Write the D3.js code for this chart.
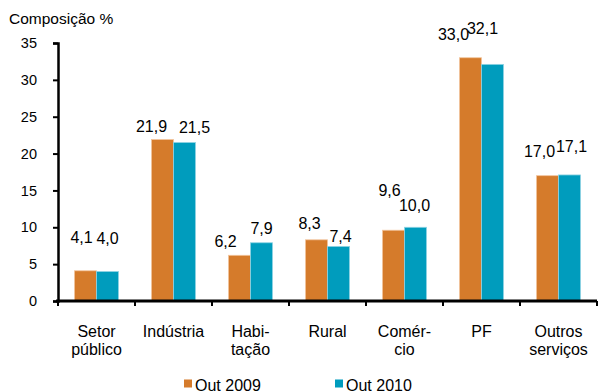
<!DOCTYPE html>
<html>
<head>
    <meta charset="utf-8">
    <script src="https://d3js.org/d3.v7.min.js"></script>
    <style>
        body { margin: 0; background: white; }
    </style>
</head>
<body>
<svg id="chart" width="599" height="392" style="font-family: 'Liberation Sans', Arial, Helvetica, sans-serif"></svg>
<script>
    // dados
    var categories = ["Setor\npúblico", "Indústria", "Habi-\ntação", "Rural", "Comér-\ncio", "PF", "Outros\nserviços"]
    var seriesNames = ["Out 2009", "Out 2010"]
    var out2009 = [4.1, 21.9, 6.2, 8.3, 9.6, 33.0, 17.0]
    var out2010 = [4.0, 21.5, 7.9, 7.4, 10.0, 32.1, 17.1]
    var yTicks = [0, 5, 10, 15, 20, 25, 30, 35]

    // ajustes manuais dos rótulos (dx, distância acima da barra)
    var nudge2009 = [[-4, 28], [-11, 8], [-14, 8], [-7, 11], [-4, 34], [-17, 18], [-8, 19]]
    var nudge2010 = [[0, 28], [10, 10], [0, 9], [2, 4], [-1, 16], [-10, 30], [2, 23]]

    var FONT = "Liberation Sans, Arial, Helvetica, sans-serif"
    var colors = ["#D57B2B", "#009CBD"]
    var strokes = ["#F2C49C", "#8FD3E3"]

    var svg = d3.select("#chart")

    var x = d3.scaleBand().domain(categories).range([58, 597]).padding(0)
    var xs = d3.scaleBand().domain(seriesNames).range([0, x.bandwidth()]).paddingInner(0).paddingOuter(0.75)
    var y = d3.scaleLinear().domain([0, 35]).range([301, 43])

    // título do eixo
    svg.append("text").attr("x", 9).attr("y", 24).attr("font-size", 15.5).attr("font-family", FONT).text("Composição %")

    // barras
    var data = [out2009, out2010]
    var nudges = [nudge2009, nudge2010]
    data.forEach(function (vals, s) {
        var g = svg.append("g")
        g.selectAll("rect").data(vals).enter().append("rect")
            .attr("x", function (d, i) { return x(categories[i]) + xs(seriesNames[s]) })
            .attr("y", function (d) { return y(d) })
            .attr("width", xs.bandwidth())
            .attr("height", function (d) { return y(0) - y(d) })
            .attr("fill", colors[s])
            .attr("stroke", strokes[s])
            .attr("stroke-width", 0.8)

        g.selectAll("text").data(vals).enter().append("text")
            .attr("x", function (d, i) { return x(categories[i]) + xs(seriesNames[s]) + xs.bandwidth() / 2 + nudges[s][i][0] })
            .attr("y", function (d, i) { return y(d) - nudges[s][i][1] })
            .attr("text-anchor", "middle")
            .attr("font-size", 16)
            .attr("font-family", FONT)
            .text(function (d) { return d.toFixed(1).replace(".", ",") })
    })

    // eixo y
    var yAxis = d3.axisLeft(y).tickValues(yTicks).tickSize(5).tickPadding(16)
    var gy = svg.append("g").attr("transform", "translate(58,0)").call(yAxis)
        .attr("font-family", FONT).attr("font-size", 14.5)
    gy.select(".domain").attr("stroke", "#000").attr("stroke-width", 2.5)
    gy.selectAll(".tick line").attr("stroke", "#000").attr("stroke-width", 2)
    gy.selectAll(".tick text").attr("fill", "#000")

    // eixo x
    svg.append("line").attr("x1", 56).attr("x2", 597).attr("y1", y(0)).attr("y2", y(0))
        .attr("stroke", "#000").attr("stroke-width", 2.8)
    var bounds = categories.map(function (c) { return x(c) }).concat([x.range()[1]])
    svg.selectAll(".xtick").data(bounds).enter().append("line")
        .attr("x1", function (d) { return d }).attr("x2", function (d) { return d })
        .attr("y1", y(0)).attr("y2", y(0) + 5)
        .attr("stroke", "#000").attr("stroke-width", 2)

    categories.forEach(function (c) {
        var lines = c.split("\n")
        var t = svg.append("text").attr("text-anchor", "middle").attr("font-size", 16).attr("font-family", FONT)
            .attr("x", x(c) + x.bandwidth() / 2).attr("y", 337)
        lines.forEach(function (l, k) {
            t.append("tspan").attr("x", x(c) + x.bandwidth() / 2).attr("dy", k === 0 ? 0 : 18).text(l)
        })
    })

    // legenda
    var legX = [184, 335]
    seriesNames.forEach(function (n, s) {
        svg.append("rect").attr("x", legX[s]).attr("y", 379.5).attr("width", 8).attr("height", 8).attr("fill", colors[s])
        svg.append("text").attr("x", legX[s] + 11).attr("y", 390.5).attr("font-size", 16).attr("font-family", FONT).text(n)
    })
</script>
</body>
</html>
